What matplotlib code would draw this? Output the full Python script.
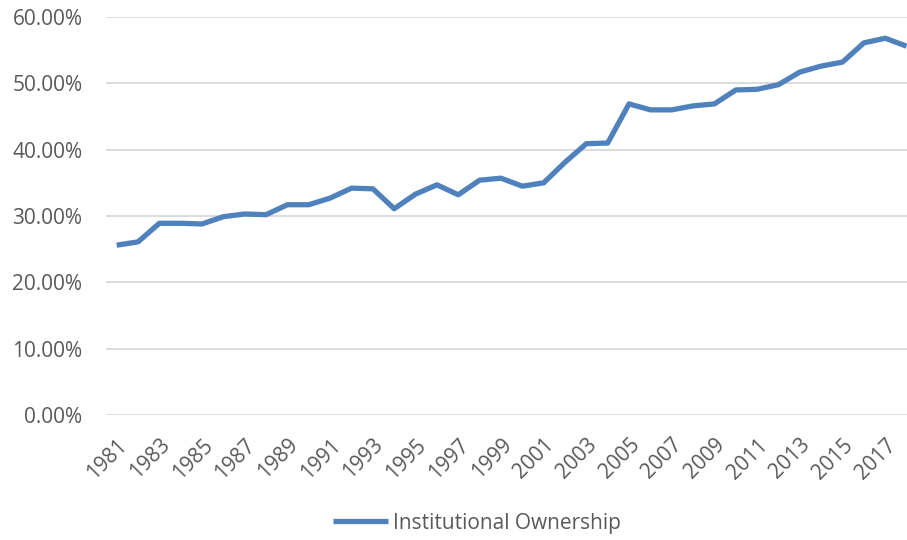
import matplotlib
matplotlib.use("Agg")
import matplotlib.pyplot as plt
from matplotlib.ticker import PercentFormatter

years = list(range(1981, 2019))
ownership = [25.6, 26.1, 28.9, 28.9, 28.8, 29.9, 30.3, 30.2, 31.7, 31.7,
             32.7, 34.2, 34.1, 31.1, 33.3, 34.7, 33.2, 35.4, 35.7, 34.5,
             35.0, 38.1, 40.9, 41.0, 46.9, 46.0, 46.0, 46.6, 46.9, 49.0,
             49.1, 49.8, 51.7, 52.6, 53.2, 56.1, 56.8, 55.6]
series_name = "Institutional Ownership"
yticks = [0, 10, 20, 30, 40, 50, 60]
xtick_years = list(range(1981, 2018, 2))

plt.rcParams['font.family'] = ['Open Sans', 'DejaVu Sans']
text_color = '#595959'
fs = 15

fig = plt.figure(figsize=(9.07, 5.40), dpi=100)
ax = fig.add_axes([106/907, 125/540, 1 - 106/907, 398/540])

ax.plot(years, ownership, color='#4F81BD', linewidth=3.8,
        solid_joinstyle='round', solid_capstyle='butt', label=series_name)

ax.set_xlim(1980.5, 2018.02)
ax.set_ylim(0, 60)
ax.set_yticks(yticks)
ax.yaxis.set_major_formatter(PercentFormatter(decimals=2))
ax.set_xticks(xtick_years)
ax.set_xticklabels([str(y) for y in xtick_years], rotation=45, ha='right',
                   va='top', rotation_mode='anchor')
ax.grid(axis='y', color='#d9d9d9', linewidth=1.3)
ax.set_axisbelow(True)
for s in ax.spines.values():
    s.set_visible(False)
ax.tick_params(axis='both', length=0, labelsize=fs, colors=text_color)
ax.tick_params(axis='y', pad=17)
ax.tick_params(axis='x', pad=14)

leg = fig.legend(loc='center', bbox_to_anchor=(477/907, 1 - 523/540),
                 frameon=False, fontsize=fs, handlelength=2.65,
                 handletextpad=0.25)
for t in leg.get_texts():
    t.set_color(text_color)

fig.savefig('out.png', dpi=100)
